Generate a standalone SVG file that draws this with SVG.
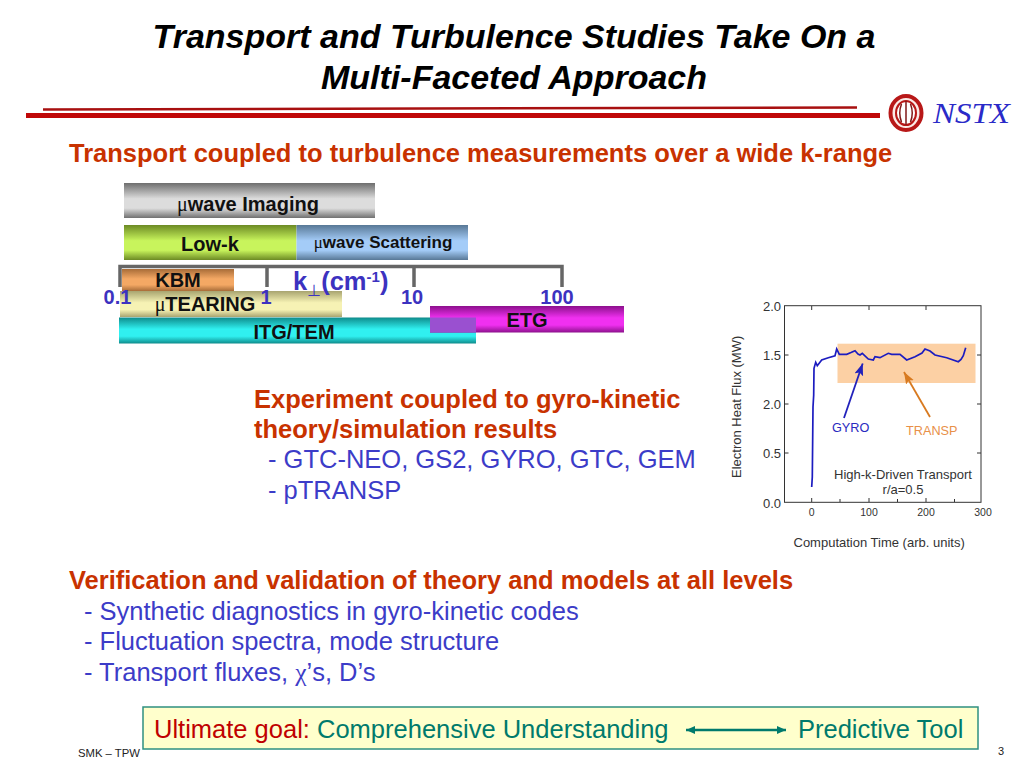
<svg xmlns="http://www.w3.org/2000/svg" width="1024" height="768" viewBox="0 0 1024 768">
<style>
text{font-family:"Liberation Sans",Arial,sans-serif}
.title{font-size:34px;font-weight:bold;font-style:italic;text-anchor:middle;fill:#000}
.head{font-size:25.500px;font-weight:bold;fill:#c83200}
.body{font-size:25.500px;fill:#3c3cc8}
.bar{font-size:20px;font-weight:bold;fill:#111;text-anchor:middle}
.axis{font-size:20px;font-weight:bold;fill:#3c32c0;text-anchor:middle}
.sym{font-family:"Liberation Serif",serif;font-weight:normal}
.plot{font-size:13px;fill:#333}
.tick{font-size:13px;fill:#333;text-anchor:end}
.tickx{font-size:10.500px;fill:#333;text-anchor:middle}
.goal{font-size:25.500px}
</style>
<defs>
<linearGradient id="gGray" x1="0" y1="0" x2="0" y2="1"><stop offset="0" stop-color="#6e6e6e"/><stop offset=".45" stop-color="#dcdcdc"/><stop offset=".72" stop-color="#dcdcdc"/><stop offset="1" stop-color="#707070"/></linearGradient>
<linearGradient id="gGreen" x1="0" y1="0" x2="0" y2="1"><stop offset="0" stop-color="#6c8a24"/><stop offset=".45" stop-color="#c8f45c"/><stop offset=".72" stop-color="#c8f45c"/><stop offset="1" stop-color="#6c8a24"/></linearGradient>
<linearGradient id="gBlue" x1="0" y1="0" x2="0" y2="1"><stop offset="0" stop-color="#587896"/><stop offset=".45" stop-color="#a4ccf8"/><stop offset=".72" stop-color="#a4ccf8"/><stop offset="1" stop-color="#587896"/></linearGradient>
<linearGradient id="gOrange" x1="0" y1="0" x2="0" y2="1"><stop offset="0" stop-color="#a86c38"/><stop offset=".45" stop-color="#f4a864"/><stop offset=".72" stop-color="#f4a864"/><stop offset="1" stop-color="#a86c38"/></linearGradient>
<linearGradient id="gYellow" x1="0" y1="0" x2="0" y2="1"><stop offset="0" stop-color="#a8a470"/><stop offset=".45" stop-color="#f6f2b4"/><stop offset=".72" stop-color="#f6f2b4"/><stop offset="1" stop-color="#a8a470"/></linearGradient>
<linearGradient id="gCyan" x1="0" y1="0" x2="0" y2="1"><stop offset="0" stop-color="#0e8c8c"/><stop offset=".45" stop-color="#30f0f0"/><stop offset=".72" stop-color="#30f0f0"/><stop offset="1" stop-color="#0e8c8c"/></linearGradient>
<linearGradient id="gMagenta" x1="0" y1="0" x2="0" y2="1"><stop offset="0" stop-color="#8c108c"/><stop offset=".45" stop-color="#f030f0"/><stop offset=".72" stop-color="#f030f0"/><stop offset="1" stop-color="#8c108c"/></linearGradient>
<marker id="aBlue" markerWidth="13" markerHeight="10" refX="12" refY="4.500" orient="auto" markerUnits="userSpaceOnUse"><path d="M0 0L12 4.500L0 9L2.500 4.500Z" fill="#2222bb"/></marker>
<marker id="aOrange" markerWidth="13" markerHeight="10" refX="12" refY="4.500" orient="auto" markerUnits="userSpaceOnUse"><path d="M0 0L12 4.500L0 9L2.500 4.500Z" fill="#d87a20"/></marker>
<marker id="aTeal" markerWidth="10" markerHeight="9" refX="9" refY="4" orient="auto-start-reverse" markerUnits="userSpaceOnUse"><path d="M0 0L9 4L0 8Z" fill="#007a6c"/></marker>
</defs>
<rect width="1024" height="768" fill="#fff"/>

<g id="title">
<text class="title" x="514" y="48">Transport and Turbulence Studies Take On a</text>
<text class="title" x="514" y="89">Multi-Faceted Approach</text>
</g>
<g id="header-rule">
<path d="M43 109.500L857 107.500" stroke="#a81010" stroke-width="2.500" fill="none"/>
<rect x="26" y="113" width="854" height="5" fill="#c00808"/>
</g>
<g id="logo">
<ellipse cx="906" cy="113" rx="15.500" ry="17" fill="#fbeae6" stroke="#b81818" stroke-width="4"/>
<ellipse cx="906" cy="113" rx="10" ry="12" fill="#fff" stroke="#b81818" stroke-width="2"/>
<path d="M906 101V125M901.500 104Q898 113 901.500 122M910.500 104Q914 113 910.500 122" stroke="#801818" stroke-width="1.500" fill="none"/>
<text x="933" y="123" font-size="30" font-style="italic" fill="#2a2ac8" textLength="77" lengthAdjust="spacingAndGlyphs" style="font-family:'Liberation Serif',serif">NSTX</text>
</g>

<g id="heading-1"><text class="head" x="69" y="162">Transport coupled to turbulence measurements over a wide k-range</text></g>

<g id="bar-imaging"><rect x="124" y="183" width="251" height="35" fill="url(#gGray)"/><text class="bar" x="248" y="211"><tspan class="sym">μ</tspan>wave Imaging</text></g>
<g id="bar-lowk"><rect x="124" y="225" width="172.500" height="35" fill="url(#gGreen)"/><text class="bar" x="210" y="251">Low-k</text></g>
<g id="bar-scattering"><rect x="296.500" y="225" width="171.500" height="35" fill="url(#gBlue)"/><text class="bar" x="383" y="248" style="font-size:17px"><tspan class="sym">μ</tspan>wave Scattering</text></g>
<g id="bar-kbm"><rect x="122" y="269" width="112" height="22" fill="url(#gOrange)"/><text class="bar" x="178" y="287">KBM</text></g>
<g id="bar-tearing"><rect x="120" y="291" width="222" height="26" fill="url(#gYellow)"/><text class="bar" x="205" y="311"><tspan class="sym">μ</tspan>TEARING</text></g>
<g id="bar-itg"><rect x="119" y="317.500" width="357" height="26" fill="url(#gCyan)"/><text class="bar" x="294" y="338.500">ITG/TEM</text></g>
<g id="bar-etg"><rect x="430" y="306" width="194" height="26.500" fill="url(#gMagenta)"/><rect x="430" y="317.500" width="46" height="15" fill="#9a50d0"/><text class="bar" x="527" y="326.500">ETG</text></g>

<g id="k-axis">
<path d="M120 287V266.500H562V287M267 266.500V287M414 266.500V287" fill="none" stroke="#666" stroke-width="3.500"/>
<text class="axis" x="117.500" y="304">0.1</text>
<text class="axis" x="266" y="304">1</text>
<text class="axis" x="412" y="304">10</text>
<text class="axis" x="557" y="304">100</text>
<text x="293" y="290" font-size="25.500" font-weight="bold" fill="#3c32c0">k<tspan class="sym" font-size="16" dy="6">⊥</tspan><tspan dy="-6">(cm</tspan><tspan font-size="15" dy="-8">-1</tspan><tspan dy="8">)</tspan></text>
</g>

<g id="experiment-text">
<text class="head" x="254" y="408">Experiment coupled to gyro-kinetic</text>
<text class="head" x="254" y="438">theory/simulation results</text>
<text class="body" x="268" y="468">- GTC-NEO, GS2, GYRO, GTC, GEM</text>
<text class="body" x="268" y="499">- pTRANSP</text>
</g>

<g id="plot">
<rect x="837.500" y="343.700" width="138" height="39.300" fill="#fcd0a4"/>
<rect x="784.500" y="305.700" width="196.500" height="196.600" fill="none" stroke="#333" stroke-width="1"/>
<path d="M784.500 355h4M784.500 404h4M784.500 453h4M977 355h4M977 404h4M977 453h4M811.700 502v-4M869 502v-4M926 502v-4M811.700 306v4M869 306v4M926 306v4M840 502v-3M897.500 502v-3M954.500 502v-3" stroke="#333" stroke-width="1" fill="none"/>
<text class="tick" x="781" y="310.500">2.0</text>
<text class="tick" x="781" y="360">1.5</text>
<text class="tick" x="781" y="409">2.0</text>
<text class="tick" x="781" y="458">0.5</text>
<text class="tick" x="781" y="507.500">0.0</text>
<text class="tickx" x="811.700" y="516">0</text>
<text class="tickx" x="869" y="516">100</text>
<text class="tickx" x="926" y="516">200</text>
<text class="tickx" x="983" y="516">300</text>
<text class="plot" x="741" y="478" transform="rotate(-90 741 478)">Electron Heat Flux (MW)</text>
<text class="plot" x="793.500" y="547">Computation Time (arb. units)</text>
<path d="M811.700 487L812.300 477L813 407L813.700 395L814 368.300L815.700 362.300L817.300 365.700L821.700 360L828.300 357.700L835 355.700L836.700 349L839.300 354.300L846.700 354.300L851 352.500L855 350.700L858 354L860 355L862.300 353.300L868.300 359L873.300 360L875 356.700L880 357.700L888.300 353.300L891.700 354.300L900 354.300L906.700 360L915 356.700L922 353L925 349L930 351L935 355L946.700 357.700L958.300 361.700L961 359.500L963.300 355.700L965.700 347.700" fill="none" stroke="#1c1cc0" stroke-width="1.700"/>
<path d="M844 418L862.700 363.500" stroke="#2222bb" stroke-width="1.800" marker-end="url(#aBlue)" fill="none"/>
<path d="M930 417L904 372" stroke="#d87a20" stroke-width="1.800" marker-end="url(#aOrange)" fill="none"/>
<text x="832" y="432" font-size="12.700" fill="#2a2ac0">GYRO</text>
<text x="906" y="435" font-size="12.700" fill="#e89048">TRANSP</text>
<text class="plot" x="903" y="479" text-anchor="middle">High-k-Driven Transport</text>
<text class="plot" x="903" y="494" text-anchor="middle">r/a=0.5</text>
</g>

<g id="verification-text">
<text class="head" x="69" y="589">Verification and validation of theory and models at all levels</text>
<text class="body" x="84" y="620">- Synthetic diagnostics in gyro-kinetic codes</text>
<text class="body" x="84" y="650">- Fluctuation spectra, mode structure</text>
<text class="body" x="84" y="681">- Transport fluxes, <tspan class="sym">χ</tspan>’s, D’s</text>
</g>

<g id="goal-box">
<rect x="143" y="707" width="835" height="42" fill="#ffffcc" stroke="#2f9080" stroke-width="1.500"/>
<text class="goal" x="154" y="737.500" fill="#c00000">Ultimate goal:</text>
<text class="goal" x="317" y="737.500" fill="#007a6c">Comprehensive Understanding</text>
<text class="goal" x="798" y="737.500" fill="#007a6c">Predictive Tool</text>
</g>
<g id="connectors">
<path d="M686 730H786" stroke="#007a6c" stroke-width="2.500" fill="none" marker-start="url(#aTeal)" marker-end="url(#aTeal)"/>
</g>

<g id="footer">
<text x="78" y="757" font-size="11.300" fill="#222">SMK – TPW</text>
<text x="998" y="755" font-size="11" fill="#222">3</text>
</g>
</svg>
